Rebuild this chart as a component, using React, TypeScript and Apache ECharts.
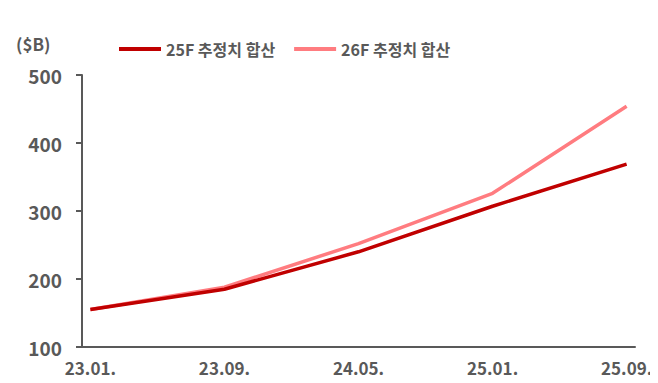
import React, { useEffect, useRef } from "react";
import * as echarts from "echarts";

// Monthly categories 23.01. ~ 25.09.
const months: string[] = [];
for (let y = 23; y <= 25; y++) {
  for (let m = 1; m <= 12; m++) {
    if (y === 25 && m > 9) break;
    months.push(`${y}.${String(m).padStart(2, "0")}.`);
  }
}

// Estimates at the labelled months (others left empty and connected)
const keyMonths = ["23.01.", "23.09.", "24.05.", "25.01.", "25.09."];
const est25F = [155, 185, 240, 307, 369];
const est26F = [155, 188, 252, 326, 454];

const seriesNames = ["25F 추정치 합산", "26F 추정치 합산"];
const yTicks = { min: 100, max: 500, interval: 100 };

const toSeries = (vals: number[]) =>
  months.map((m) => {
    const i = keyMonths.indexOf(m);
    return i >= 0 ? vals[i] : null;
  });

const FONT = "'Noto Sans CJK KR', 'Noto Sans', sans-serif";
const GRAY = "#595959";

export default function App() {
  const ref = useRef<HTMLDivElement>(null);

  useEffect(() => {
    if (!ref.current) return;
    const chart = echarts.init(ref.current, undefined, { renderer: "svg" });
    chart.setOption({
      animation: false,
      backgroundColor: "#fff",
      textStyle: { fontFamily: FONT },
      graphic: [
        {
          type: "rect",
          left: 0,
          top: 0,
          shape: { width: 658, height: 2 },
          style: { fill: "#000" },
        },
        {
          type: "text",
          left: 16,
          top: 35,
          style: {
            text: "($B)",
            fill: GRAY,
            font: `600 17px ${FONT}`,
          },
        },
      ],
      legend: {
        left: 114,
        top: 36,
        icon: "rect",
        itemWidth: 42,
        itemHeight: 4,
        itemGap: 19,
        textStyle: { color: GRAY, fontSize: 16, fontWeight: 600, fontFamily: FONT },
        data: seriesNames,
      },
      grid: { left: 82, right: 23, top: 75, bottom: 36 },
      xAxis: {
        type: "category",
        data: months,
        boundaryGap: true,
        axisLine: { lineStyle: { color: GRAY, width: 2 } },
        axisTick: { interval: 7, length: 6, lineStyle: { color: GRAY, width: 2 } },
        axisLabel: {
          interval: 7,
          color: GRAY,
          fontSize: 17,
          fontWeight: 600,
          fontFamily: FONT,
          margin: 12,
        },
      },
      yAxis: {
        type: "value",
        min: yTicks.min,
        max: yTicks.max,
        interval: yTicks.interval,
        splitLine: { show: false },
        axisLine: { show: true, lineStyle: { color: GRAY, width: 2 } },
        axisTick: { show: true, length: 6, lineStyle: { color: GRAY, width: 2 } },
        axisLabel: {
          color: GRAY,
          fontSize: 19,
          fontWeight: 600,
          fontFamily: FONT,
          margin: 20,
        },
      },
      series: [
        {
          name: seriesNames[0],
          type: "line",
          data: toSeries(est25F),
          connectNulls: true,
          showSymbol: false,
          symbol: "none",
          lineStyle: { color: "#C00000", width: 3.5 },
          itemStyle: { color: "#C00000" },
          z: 3,
        },
        {
          name: seriesNames[1],
          type: "line",
          data: toSeries(est26F),
          connectNulls: true,
          showSymbol: false,
          symbol: "none",
          lineStyle: { color: "#FF7C80", width: 3.5 },
          itemStyle: { color: "#FF7C80" },
          z: 2,
        },
      ],
    });
    return () => chart.dispose();
  }, []);

  return <div ref={ref} style={{ width: 658, height: 383, margin: -8 }} />;
}
